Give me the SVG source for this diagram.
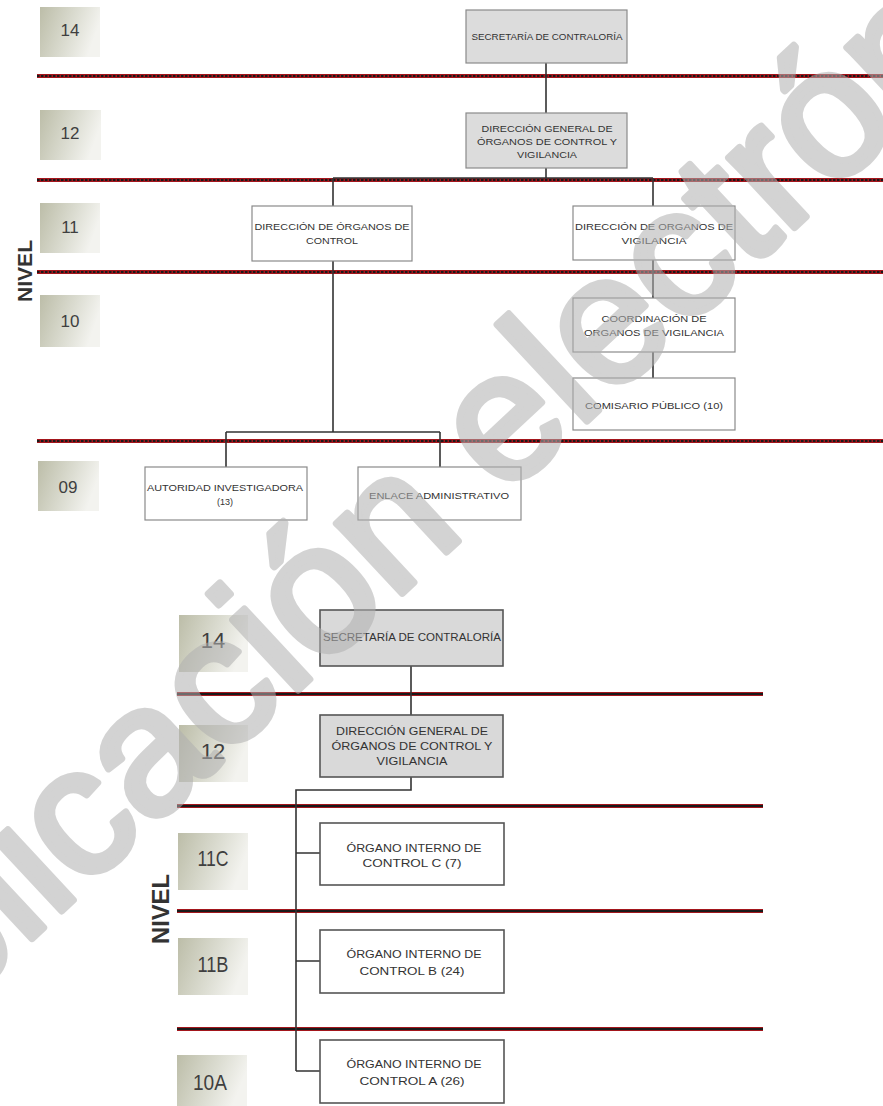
<svg xmlns="http://www.w3.org/2000/svg" width="883" height="1106" viewBox="0 0 883 1106">
<defs>
<linearGradient id="lvl" x1="0" y1="0" x2="1" y2="0.3">
<stop offset="0" stop-color="#bcbda8"/>
<stop offset="0.6" stop-color="#dcddd2"/>
<stop offset="1" stop-color="#f3f3ef"/>
</linearGradient>
<style>
.lb{fill:url(#lvl)}
.ln{font-family:"Liberation Sans",Arial,sans-serif;fill:#3f3f3f;text-anchor:middle}
.nv{font-family:"Liberation Sans",Arial,sans-serif;font-weight:bold;fill:#333;text-anchor:middle}
.bx{fill:#fff;stroke:#8a8a8a;stroke-width:1.2}
.bg{fill:#dcdcdc;stroke:#8a8a8a;stroke-width:1.2}
.bx2{fill:#fff;stroke:#555;stroke-width:1.6}
.bg2{fill:#d9d9d9;stroke:#555;stroke-width:1.6}
.t{font-family:"Liberation Sans",Arial,sans-serif;fill:#333;text-anchor:middle}
.t1{font-size:9px}
.t2{font-size:11px}
.red{stroke:#a3161c;stroke-width:4;fill:none}
.blkd{stroke:#1a1a1a;stroke-width:2.2;stroke-dasharray:2.5 1.5;fill:none}
.blk{stroke:#1a1a1a;stroke-width:2;fill:none}
.c{stroke:#333;stroke-width:1.6;fill:none}
</style>
</defs>
<rect width="883" height="1106" fill="#fff"/>

<g id="levels-top">
<g id="lvl-top-14"><rect class="lb" x="40" y="7" width="60" height="50"/><text class="ln" x="70" y="36" font-size="17">14</text></g>
<g id="lvl-top-12"><rect class="lb" x="40" y="110" width="61" height="50"/><text class="ln" x="70" y="139" font-size="17">12</text></g>
<g id="lvl-top-11"><rect class="lb" x="40" y="203" width="60" height="50"/><text class="ln" x="70" y="233" font-size="17">11</text></g>
<g id="lvl-top-10"><rect class="lb" x="40" y="295" width="60" height="52"/><text class="ln" x="70" y="327" font-size="17">10</text></g>
<g id="lvl-top-09"><rect class="lb" x="38" y="461" width="61" height="50"/><text class="ln" x="68" y="493" font-size="17">09</text></g>
<text class="nv" x="32" y="271" font-size="20" textLength="62" lengthAdjust="spacingAndGlyphs" transform="rotate(-90 32 271)">NIVEL</text>
</g>

<g id="level-lines-top">
<line class="red" x1="37" y1="76" x2="883" y2="76"/><line class="blkd" x1="37" y1="76" x2="883" y2="76"/>
<line class="red" x1="37" y1="180" x2="883" y2="180"/><line class="blkd" x1="37" y1="180" x2="883" y2="180"/>
<line class="red" x1="37" y1="272" x2="883" y2="272"/><line class="blkd" x1="37" y1="272" x2="883" y2="272"/>
<line class="red" x1="37" y1="441" x2="883" y2="441"/><line class="blkd" x1="37" y1="441" x2="883" y2="441"/>
</g>

<g id="connectors-top">
<path class="c" d="M546 63V113M546 168V178M333 178H653M333 178V206M653 178V206M653 260V298M653 352V378M333 261V432M226 432H440M226 432V467M440 432V467"/>
</g>

<g id="node-sec-top"><rect class="bg" x="466" y="10" width="161" height="53"/><text class="t t1" x="547" y="40" textLength="151" lengthAdjust="spacingAndGlyphs">SECRETARÍA DE CONTRALORÍA</text></g>
<g id="node-dg-top"><rect class="bg" x="466" y="113" width="161" height="55"/>
<text class="t t1" x="547" y="132" textLength="131" lengthAdjust="spacingAndGlyphs">DIRECCIÓN GENERAL DE</text>
<text class="t t1" x="547" y="145" textLength="140" lengthAdjust="spacingAndGlyphs">ÓRGANOS DE CONTROL Y</text>
<text class="t t1" x="547" y="158" textLength="60" lengthAdjust="spacingAndGlyphs">VIGILANCIA</text></g>
<g id="node-doc"><rect class="bx" x="252" y="206" width="160" height="55"/>
<text class="t t1" x="332" y="230" textLength="155" lengthAdjust="spacingAndGlyphs">DIRECCIÓN DE ÓRGANOS DE</text>
<text class="t t1" x="332" y="244" textLength="52" lengthAdjust="spacingAndGlyphs">CONTROL</text></g>
<g id="node-dov"><rect class="bx" x="573" y="206" width="162" height="54"/>
<text class="t t1" x="654" y="230" textLength="158" lengthAdjust="spacingAndGlyphs">DIRECCIÓN DE ORGANOS DE</text>
<text class="t t1" x="654" y="244" textLength="65" lengthAdjust="spacingAndGlyphs">VIGILANCIA</text></g>
<g id="node-coord"><rect class="bx" x="573" y="298" width="162" height="54"/>
<text class="t t1" x="654" y="322" textLength="105" lengthAdjust="spacingAndGlyphs">COORDINACIÓN DE</text>
<text class="t t1" x="654" y="336" textLength="140" lengthAdjust="spacingAndGlyphs">ORGANOS DE VIGILANCIA</text></g>
<g id="node-comisario"><rect class="bx" x="573" y="378" width="162" height="52"/>
<text class="t t1" x="654" y="409" textLength="138" lengthAdjust="spacingAndGlyphs">COMISARIO PÚBLICO (10)</text></g>
<g id="node-autoridad"><rect class="bx" x="145" y="467" width="162" height="53"/>
<text class="t t1" x="225" y="491" textLength="156" lengthAdjust="spacingAndGlyphs">AUTORIDAD INVESTIGADORA</text>
<text class="t t1" x="225" y="505" textLength="16" lengthAdjust="spacingAndGlyphs">(13)</text></g>
<g id="node-enlace"><rect class="bx" x="358" y="467" width="163" height="53"/>
<text class="t t1" x="439" y="499" textLength="140" lengthAdjust="spacingAndGlyphs">ENLACE ADMINISTRATIVO</text></g>

<g id="levels-bottom">
<g id="lvl-b-14"><rect class="lb" x="179" y="615" width="69" height="57"/><text class="ln" x="213" y="648" font-size="22">14</text></g>
<g id="lvl-b-12"><rect class="lb" x="179" y="725" width="69" height="57"/><text class="ln" x="213" y="759" font-size="22">12</text></g>
<g id="lvl-b-11c"><rect class="lb" x="178" y="833" width="70" height="57"/><text class="ln" x="213" y="866" font-size="22" textLength="31" lengthAdjust="spacingAndGlyphs">11C</text></g>
<g id="lvl-b-11b"><rect class="lb" x="178" y="938" width="70" height="57"/><text class="ln" x="213" y="972" font-size="22" textLength="31" lengthAdjust="spacingAndGlyphs">11B</text></g>
<g id="lvl-b-10a"><rect class="lb" x="177" y="1055" width="70" height="51"/><text class="ln" x="210" y="1090" font-size="22" textLength="34" lengthAdjust="spacingAndGlyphs">10A</text></g>
<text class="nv" x="169" y="909" font-size="24" textLength="70" lengthAdjust="spacingAndGlyphs" transform="rotate(-90 169 909)">NIVEL</text>
</g>

<g id="level-lines-bottom">
<line class="red" x1="177" y1="694" x2="763" y2="694"/><line class="blk" x1="177" y1="694" x2="763" y2="694"/>
<line class="red" x1="177" y1="806" x2="763" y2="806"/><line class="blk" x1="177" y1="806" x2="763" y2="806"/>
<line class="red" x1="177" y1="911" x2="763" y2="911"/><line class="blk" x1="177" y1="911" x2="763" y2="911"/>
<line class="red" x1="177" y1="1029" x2="763" y2="1029"/><line class="blk" x1="177" y1="1029" x2="763" y2="1029"/>
</g>

<g id="connectors-bottom">
<path class="c" d="M411 666V715M411 777V790H296V1071M296 853H320M296 961H320M296 1071H320"/>
</g>

<g id="node-sec-b"><rect class="bg2" x="320" y="610" width="183" height="56"/>
<text class="t t2" x="412" y="641" textLength="178" lengthAdjust="spacingAndGlyphs">SECRETARÍA DE CONTRALORÍA</text></g>
<g id="node-dg-b"><rect class="bg2" x="320" y="715" width="183" height="62"/>
<text class="t t2" x="412" y="735" textLength="152" lengthAdjust="spacingAndGlyphs">DIRECCIÓN GENERAL DE</text>
<text class="t t2" x="412" y="750" textLength="161" lengthAdjust="spacingAndGlyphs">ÓRGANOS DE CONTROL Y</text>
<text class="t t2" x="412" y="765" textLength="71" lengthAdjust="spacingAndGlyphs">VIGILANCIA</text></g>
<g id="node-oic-c"><rect class="bx2" x="320" y="823" width="184" height="62"/>
<text class="t t2" x="414" y="852" textLength="135" lengthAdjust="spacingAndGlyphs">ÓRGANO INTERNO DE</text>
<text class="t t2" x="412" y="867" textLength="99" lengthAdjust="spacingAndGlyphs">CONTROL C (7)</text></g>
<g id="node-oic-b"><rect class="bx2" x="320" y="930" width="184" height="63"/>
<text class="t t2" x="414" y="958" textLength="135" lengthAdjust="spacingAndGlyphs">ÓRGANO INTERNO DE</text>
<text class="t t2" x="412" y="975" textLength="105" lengthAdjust="spacingAndGlyphs">CONTROL B (24)</text></g>
<g id="node-oic-a"><rect class="bx2" x="320" y="1040" width="184" height="63"/>
<text class="t t2" x="414" y="1068" textLength="135" lengthAdjust="spacingAndGlyphs">ÓRGANO INTERNO DE</text>
<text class="t t2" x="412" y="1085" textLength="105" lengthAdjust="spacingAndGlyphs">CONTROL A (26)</text></g>

<g id="watermark" opacity="0.55">
<text x="0" y="0" transform="translate(-199 1154) rotate(-43)" font-family="Liberation Sans,Arial,sans-serif" font-size="182" fill="#b0b0b0" stroke="#b0b0b0" stroke-width="7" stroke-linejoin="round">publicación electrónica</text>
</g>
</svg>
